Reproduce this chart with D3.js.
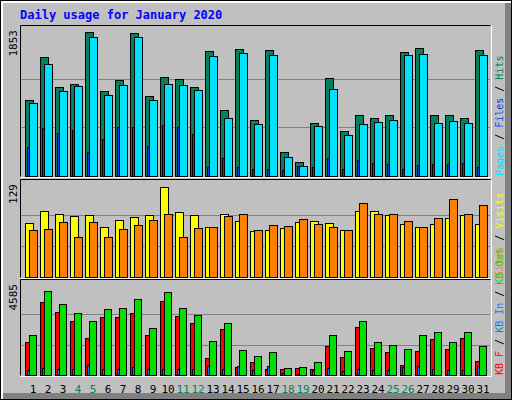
<!DOCTYPE html>
<html>
<head>
<meta charset="utf-8">
<script src="https://cdn.jsdelivr.net/npm/d3@7"></script>
<style>
  body { margin: 0; background: #fff; }
  text { font-family: "DejaVu Sans Mono", monospace; }
</style>
</head>
<body>
<script>
// data
var days = d3.range(1, 32);
var weekends = [4, 5, 11, 12, 18, 19, 25, 26];
var hits = [966, 1514, 1128, 1165, 1825, 1078, 1215, 1812, 1016, 1252, 1227, 1128, 1588, 842, 1613, 705,
            1601, 307, 183, 668, 1240, 568, 768, 742, 780, 1576, 1626, 768, 780, 742, 1601];
var files = [929, 1427, 1078, 1140, 1762, 1028, 1153, 1762, 966, 1165, 1153, 1090, 1526, 742, 1564, 655,
             1539, 245, 133, 631, 1103, 519, 655, 680, 705, 1539, 1551, 668, 693, 668, 1539];
var pages = [373, 606, 543, 581, 307, 469, 618, 618, 381, 643, 618, 531, 108, 232, 108, 95,
             95, 71, 121, 108, 232, 95, 208, 170, 158, 95, 145, 158, 158, 170, 108];
var visits = [75, 92, 87, 84, 86, 69, 79, 83, 86, 125, 90, 86, 69, 87, 78, 64,
              65, 68, 76, 78, 75, 65, 92, 92, 86, 73, 69, 73, 82, 86, 73];
var sites = [65, 67, 76, 55, 76, 56, 67, 72, 79, 88, 56, 68, 69, 84, 88, 65,
             72, 71, 80, 73, 69, 65, 102, 87, 87, 78, 69, 82, 108, 87, 100];
var kbF = [1667, 3659, 3196, 2733, 1853, 2918, 2918, 3103, 1992, 3752, 2964, 2640, 880, 2316, 417, 648,
           324, 278, 371, 324, 1482, 926, 2409, 1343, 1158, 510, 1204, 1806, 1297, 1853, 695];
var kbIn = [232, 371, 278, 278, 510, 278, 324, 417, 278, 324, 278, 278, 463, 278, 463, 232,
            463, 93, 46, 232, 371, 185, 278, 232, 232, 417, 463, 278, 232, 232, 463];
var kbOut = [2038, 4215, 3567, 3103, 2733, 3335, 3381, 3845, 2362, 4169, 3381, 3011, 1714, 2640, 1251, 973,
             1158, 371, 417, 648, 2038, 1204, 2733, 1667, 1529, 1297, 2038, 2177, 1667, 2177, 1482];
var maxTop = 1853, maxMid = 129, maxBot = 4585;

var W = 512, H = 400;
var svg = d3.select("body").append("svg").attr("width", W).attr("height", H);

// frame
svg.append("rect").attr("x", 0).attr("y", 0).attr("width", W).attr("height", H).attr("fill", "#000");
svg.append("rect").attr("x", 1).attr("y", 1).attr("width", W - 2).attr("height", H - 2).attr("fill", "#fff");
svg.append("rect").attr("x", 3).attr("y", 3).attr("width", W - 4).attr("height", H - 4).attr("fill", "#808080");
svg.append("rect").attr("x", 3).attr("y", 3).attr("width", W - 10).attr("height", H - 10).attr("fill", "#c0c0c0");

svg.append("text").attr("x", 20).attr("y", 19)
    .attr("fill", "#0000ff").attr("font-weight", "bold").attr("font-size", 12)
    .text("Daily usage for January 2020");

var x = d3.scaleBand().domain(days).range([23, 488]).paddingInner(0);

function panel(top, bottom, max, label, series, legend) {
    var y = d3.scaleLinear().domain([0, max]).range([bottom, top + 4]);
    var g = svg.append("g");
    g.append("rect").attr("x", 21).attr("y", top).attr("width", 470).attr("height", bottom - top)
        .attr("fill", "#c0c0c0");
    [1 / 3, 2 / 3].forEach(function(f) {
        g.append("line").attr("x1", 21).attr("x2", 490)
            .attr("y1", Math.round(y(max * f)) + 0.5).attr("y2", Math.round(y(max * f)) + 0.5)
            .attr("stroke", "#808080");
    });
    series.forEach(function(s) {
        g.selectAll(null).data(s.data).enter().append("rect")
            .attr("x", function(d, i) { return x(days[i]) + s.dx + 0.5; })
            .attr("y", function(d) { return Math.round(y(d)) + 0.5; })
            .attr("width", s.w)
            .attr("height", function(d) { return Math.max(0, bottom - Math.round(y(d))); })
            .attr("fill", s.color).attr("stroke", s.stroke || "#000");
    });
    // bevel
    g.append("path").attr("d", "M20.5," + (bottom + 0.5) + "V" + (top - 0.5) + "H490.5")
        .attr("fill", "none").attr("stroke", "#000");
    g.append("path").attr("d", "M20.5," + (bottom + 1.5) + "H491.5V" + (top - 0.5))
        .attr("fill", "none").attr("stroke", "#fff");
    g.append("text").attr("transform", "translate(17," + (top + 4) + ") rotate(-90)")
        .attr("text-anchor", "end").attr("font-size", 11).attr("font-family", "DejaVu Sans")
        .text(label);
    var t = g.append("text").attr("transform", "translate(503," + bottom + ") rotate(-90)")
        .attr("font-size", 10);
    legend.forEach(function(p, i) {
        if (i) t.append("tspan").attr("fill", "#000").text(" / ");
        t.append("tspan").attr("fill", p[1]).text(p[0]);
    });
}

panel(26, 176, maxTop, String(maxTop), [
    { data: hits, dx: 2, w: 8, color: "#00805c" },
    { data: files, dx: 6, w: 8, color: "#00e0ff" },
    { data: pages, dx: 4, w: 2, color: "#0040ff" }
], [["Pages", "#00e0ff"], ["Files", "#0040ff"], ["Hits", "#00805c"]]);

panel(180, 277, maxMid, String(maxMid), [
    { data: visits, dx: 2, w: 8, color: "#ffff00" },
    { data: sites, dx: 6, w: 8, color: "#ff8000" }
], [["Sites", "#ff8000"], ["Visits", "#ffff00"]]);

panel(280, 375, maxBot, String(maxBot), [
    { data: kbF, dx: 2, w: 5, color: "#ff0000" },
    { data: kbOut, dx: 6, w: 7, color: "#00e000" },
    { data: kbIn, dx: 4, w: 2, color: "#0080ff" }
], [["KB F", "#ff0000"], ["KB In", "#0080ff"], ["KB Out", "#00e000"]]);

svg.selectAll(".day").data(days).enter().append("text")
    .attr("x", function(d) { return x(d) + 10; })
    .attr("y", 393).attr("text-anchor", "middle")
    .attr("font-family", "DejaVu Sans").attr("font-size", 11)
    .attr("fill", function(d) { return weekends.indexOf(d) >= 0 ? "#00805c" : "#000"; })
    .text(function(d) { return d; });
</script>
</body>
</html>
